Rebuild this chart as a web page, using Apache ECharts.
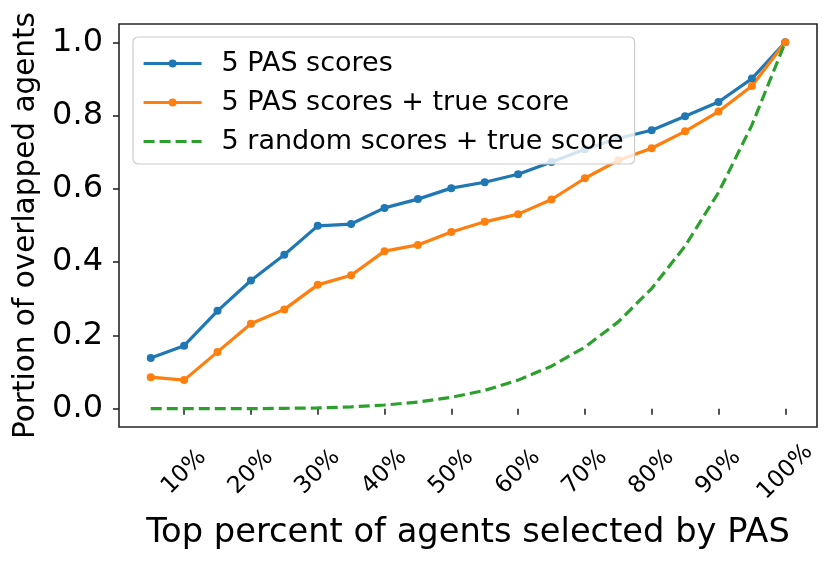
<!DOCTYPE html>
<html>
<head>
<meta charset="utf-8">
<script src="https://cdn.jsdelivr.net/npm/echarts@6.0.0/dist/echarts.min.js"></script>
<style>
  html, body { margin: 0; padding: 0; background: #fff; }
  #chart { width: 835px; height: 566px; }
</style>
</head>
<body>
<div id="chart"></div>
<script>
// x positions, in percent of agents selected
var topPercent = [5, 10, 15, 20, 25, 30, 35, 40, 45, 50, 55, 60, 65, 70, 75, 80, 85, 90, 95, 100];

var pasScores = [0.138, 0.172, 0.267, 0.350, 0.420, 0.499, 0.504, 0.548, 0.572, 0.602,
  0.618, 0.640, 0.673, 0.708, 0.738, 0.760, 0.798, 0.837, 0.901, 1.0];
var pasTrueScores = [0.086, 0.078, 0.155, 0.232, 0.271, 0.338, 0.364, 0.430, 0.447, 0.482,
  0.510, 0.531, 0.571, 0.629, 0.678, 0.711, 0.757, 0.811, 0.881, 1.0];
var randomTrueScores = [0.000, 0.000, 0.000, 0.000, 0.001, 0.002, 0.005, 0.010, 0.018, 0.031,
  0.050, 0.078, 0.116, 0.168, 0.237, 0.328, 0.444, 0.590, 0.774, 1.0];

var seriesNames = ['5 PAS scores', '5 PAS scores + true score', '5 random scores + true score'];

// tick labels
var xTicks = [10, 20, 30, 40, 50, 60, 70, 80, 90, 100];
var xTickLabels = ['10%', '20%', '30%', '40%', '50%', '60%', '70%', '80%', '90%', '100%'];
var yTicks = [0, 0.2, 0.4, 0.6, 0.8, 1.0];
var yTickLabels = ['0.0', '0.2', '0.4', '0.6', '0.8', '1.0'];

function pairs(ys) {
  var out = [];
  for (var i = 0; i < topPercent.length; i++) {
    out.push([topPercent[i], ys[i]]);
  }
  return out;
}

var font = 'DejaVu Sans';
var myChart = echarts.init(document.getElementById('chart'));

var option = {
  animation: false,
  textStyle: { fontFamily: font, color: '#000' },
  grid: {
    left: 119, right: 18, top: 24, bottom: 139,
    containLabel: false,
    outerBoundsMode: 'none',
    show: true,
    borderColor: '#262626',
    borderWidth: 1.6,
    backgroundColor: 'transparent'
  },
  legend: {
    orient: 'vertical',
    left: 133,
    top: 37,
    padding: [13, 11, 9, 9],
    itemGap: 12,
    itemWidth: 58,
    itemHeight: 10,
    backgroundColor: 'rgba(255,255,255,0.8)',
    borderColor: '#cccccc',
    borderWidth: 1.2,
    borderRadius: 5,
    lineStyle: { width: 3.2 },
    textStyle: { fontFamily: font, fontSize: 27, color: '#000', padding: [0, 0, 0, 15] },
    data: [
      { name: seriesNames[0] },
      { name: seriesNames[1] },
      // dashed line only, no dot
      { name: seriesNames[2], itemStyle: { opacity: 0 } }
    ]
  },
  xAxis: {
    type: 'value',
    min: 0.25,
    max: 104.75,
    name: 'Top percent of agents selected by PAS',
    nameLocation: 'middle',
    nameGap: 89,
    nameTextStyle: { fontFamily: font, fontSize: 33.7, color: '#000' },
    axisLine: { show: false },
    splitLine: { show: false },
    axisTick: {
      show: true,
      customValues: xTicks,
      length: 6,
      lineStyle: { color: '#262626', width: 1.6 }
    },
    axisLabel: {
      customValues: xTicks,
      rotate: 45,
      align: 'center',
      verticalAlign: 'middle',
      margin: 45,
      fontFamily: font,
      fontSize: 23.5,
      color: '#000',
      formatter: function (v) {
        var i = xTicks.indexOf(Math.round(v));
        return i >= 0 ? xTickLabels[i] : '';
      }
    }
  },
  yAxis: {
    type: 'value',
    min: -0.05,
    max: 1.05,
    name: 'Portion of overlapped agents',
    nameLocation: 'middle',
    nameGap: 77,
    nameTextStyle: { fontFamily: font, fontSize: 29.5, color: '#000' },
    axisLine: { show: false },
    splitLine: { show: false },
    axisTick: {
      show: true,
      customValues: yTicks,
      length: 6,
      lineStyle: { color: '#262626', width: 1.6 }
    },
    axisLabel: {
      customValues: yTicks,
      margin: 16,
      fontFamily: font,
      fontSize: 32,
      color: '#000',
      formatter: function (v) {
        for (var i = 0; i < yTicks.length; i++) {
          if (Math.abs(yTicks[i] - v) < 1e-6) return yTickLabels[i];
        }
        return '';
      }
    }
  },
  series: [
    {
      name: seriesNames[0],
      type: 'line',
      data: pairs(pasScores),
      symbol: 'circle',
      symbolSize: 8,
      lineStyle: { color: '#1f77b4', width: 3.2 },
      itemStyle: { color: '#1f77b4' }
    },
    {
      name: seriesNames[1],
      type: 'line',
      data: pairs(pasTrueScores),
      symbol: 'circle',
      symbolSize: 8,
      lineStyle: { color: '#ff7f0e', width: 3.2 },
      itemStyle: { color: '#ff7f0e' }
    },
    {
      name: seriesNames[2],
      type: 'line',
      data: pairs(randomTrueScores),
      symbol: 'none',
      lineStyle: { color: '#2ca02c', width: 3.2, type: [11, 5] },
      itemStyle: { color: '#2ca02c' }
    }
  ]
};

myChart.setOption(option);
</script>
</body>
</html>
